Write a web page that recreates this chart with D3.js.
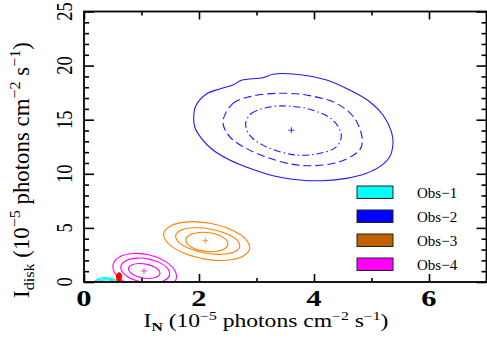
<!DOCTYPE html>
<html>
<head>
<meta charset="utf-8">
<script src="https://cdn.jsdelivr.net/npm/d3@7"></script>
<style>
  html, body { margin: 0; padding: 0; background: #fff; }
  svg { display: block; }
</style>
</head>
<body>
<svg id="chart" width="487" height="339"></svg>
<script>
// Axis ticks
const xMajorTicks = [0, 2, 4, 6];
const xMinorTicks = [1, 3, 5];
const yMajorTicks = [0, 5, 10, 15, 20, 25];
const yMinorTicks = [1, 2, 3, 4, 6, 7, 8, 9, 11, 12, 13, 14, 16, 17, 18, 19, 21, 22, 23, 24];

// Legend entries
const obsNames = ["Obs\u22121", "Obs\u22122", "Obs\u22123", "Obs\u22124"];
const legendColors = ["#00ffff", "#0000ff", "#c06000", "#ff00ff"];

// Confidence contours, [I_N, I_disk] vertices, outermost first
const obs1Contours = [
  [[0.19, 0.05], [0.25, 0.30], [0.35, 0.40], [0.47, 0.35], [0.56, 0.10], [0.50, -0.25], [0.35, -0.35], [0.22, -0.20]],
  [[0.22, 0.05], [0.28, 0.25], [0.37, 0.30], [0.48, 0.22], [0.53, 0.05], [0.45, -0.15], [0.33, -0.20], [0.24, -0.10]],
  [[0.26, 0.05], [0.32, 0.17], [0.40, 0.20], [0.48, 0.12], [0.50, 0.00], [0.42, -0.10], [0.30, -0.10]]
];
const obs2Contours = [
  [[1.908, 15.28], [1.943, 16.27], [2.129, 17.38], [2.360, 17.84], [2.591, 18.21], [2.737, 18.64], [3.113, 18.88],
   [3.287, 19.20], [3.635, 19.22], [4.216, 18.67], [4.621, 17.74], [4.969, 16.66], [5.200, 15.43], [5.346, 13.89],
   [5.374, 12.82], [5.316, 11.58], [5.143, 10.66], [4.911, 10.05], [4.563, 9.58], [4.157, 9.36], [3.751, 9.43],
   [3.287, 9.82], [2.882, 10.51], [2.534, 11.28], [2.243, 12.20], [2.042, 13.28], [1.925, 14.35]],
  [[2.417, 14.82], [2.591, 16.51], [2.881, 17.13], [3.345, 17.44], [3.867, 17.28], [4.388, 16.51], [4.707, 15.13],
   [4.841, 13.12], [4.794, 12.20], [4.446, 11.12], [3.983, 10.75], [3.635, 10.87], [3.229, 11.43], [2.823, 12.35], [2.533, 13.43]],
  [[2.812, 14.65], [2.910, 15.57], [3.229, 16.18], [3.577, 16.25], [3.983, 15.88], [4.330, 14.95], [4.475, 13.57],
   [4.388, 12.49], [3.983, 11.78], [3.577, 11.82], [3.113, 12.65], [2.881, 13.57]]
];
const obs3Contours = [
  [[2.882, 3.09], [2.807, 3.99], [2.551, 4.86], [2.184, 5.43], [1.804, 5.56], [1.511, 5.20],
   [1.386, 4.50], [1.461, 3.58], [1.716, 2.72], [2.084, 2.14], [2.464, 2.01], [2.755, 2.36]],
  [[2.708, 3.25], [2.657, 3.89], [2.470, 4.48], [2.198, 4.90], [1.913, 5.01], [1.691, 4.80],
   [1.595, 4.31], [1.645, 3.68], [1.833, 3.09], [2.104, 2.68], [2.390, 2.56], [2.610, 2.78]],
  [[2.503, 3.42], [2.477, 3.88], [2.360, 4.30], [2.184, 4.55], [1.995, 4.57], [1.845, 4.36],
   [1.772, 3.97], [1.798, 3.51], [1.915, 3.10], [2.090, 2.85], [2.280, 2.82], [2.430, 3.03]]
];
const obs4Contours = [
  [[1.603, 0.28], [1.574, 1.13], [1.405, 1.93], [1.143, 2.49], [0.858, 2.63], [0.624, 2.33],
   [0.508, 1.66], [0.537, 0.81], [0.706, 0.00], [0.969, -0.55], [1.254, -0.69], [1.487, -0.39]],
  [[1.482, 0.55], [1.470, 1.13], [1.348, 1.70], [1.151, 2.09], [0.930, 2.21], [0.746, 2.02],
   [0.647, 1.57], [0.659, 0.99], [0.781, 0.42], [0.977, 0.03], [1.198, -0.09], [1.383, 0.10]],
  [[1.317, 0.69], [1.306, 1.04], [1.227, 1.38], [1.099, 1.63], [0.957, 1.71], [0.840, 1.60],
   [0.777, 1.34], [0.788, 0.99], [0.867, 0.65], [0.995, 0.41], [1.136, 0.33], [1.254, 0.43]]
];
const redContour = [[0.575, 0.75], [0.62, 0.85], [0.655, 0.65], [0.645, 0.30], [0.625, 0.00], [0.605, -0.20], [0.58, 0.10], [0.565, 0.45]];

// Best-fit positions
const centers = [
  { x: 3.606, y: 14.03, color: "#0000ff" },
  { x: 2.11, y: 3.82, color: "#ff8000" },
  { x: 1.043, y: 1.02, color: "#ff00ff" }
];

const serif = "\"Liberation Serif\"";
const svg = d3.select("#chart");
const plotLeft = 84, plotRight = 486.5, plotTop = 11.5, plotBottom = 282;
const wide = 1.3; // horizontal stretch of the lettering

const x = d3.scaleLinear().domain([0, 7]).range([plotLeft, plotRight]);
const y = d3.scaleLinear().domain([0, 25]).range([plotBottom, plotTop]);

svg.append("defs").append("clipPath").attr("id", "plotClip")
  .append("rect").attr("x", plotLeft).attr("y", plotTop)
  .attr("width", plotRight - plotLeft).attr("height", plotBottom - plotTop);

const plot = svg.append("g").attr("clip-path", "url(#plotClip)");
const line = d3.line().x(d => x(d[0])).y(d => y(d[1])).curve(d3.curveCatmullRomClosed.alpha(0.5));

function drawSet(contours, color, dashes, width) {
  plot.append("g").selectAll("path").data(contours).join("path")
    .attr("d", line)
    .attr("fill", "none")
    .attr("stroke", color)
    .attr("stroke-width", width)
    .attr("stroke-dasharray", (d, i) => dashes[i]);
}

drawSet(obs1Contours, "#00f0f0", [null, null, null], 1.2);
drawSet(obs4Contours, "#ff00ff", [null, null, null], 1.1);
drawSet(obs3Contours, "#ff8000", [null, null, null], 1.1);
drawSet(obs2Contours, "#1a1aff", [null, "8,4", "7,3,1.5,3"], 1.1);

plot.append("path").datum(redContour)
  .attr("d", line).attr("fill", "#ff0000").attr("stroke", "#ff0000").attr("stroke-width", 1);

plot.append("g").selectAll("path").data(centers).join("path")
  .attr("d", d => `M${x(d.x) - 3},${y(d.y)}H${x(d.x) + 3}M${x(d.x)},${y(d.y) - 3}V${y(d.y) + 3}`)
  .attr("stroke", d => d.color).attr("stroke-width", 0.8).attr("fill", "none");

// Inward ticks on all four sides
function tickAxis(gen, values, size, transform) {
  const g = svg.append("g").attr("transform", transform)
    .call(gen.tickValues(values).tickSizeInner(-size).tickSizeOuter(0).tickFormat(""));
  g.select(".domain").remove();
  g.selectAll(".tick line").attr("stroke", "#000").attr("stroke-width", 1.6);
  return g;
}
tickAxis(d3.axisBottom(x), xMajorTicks, 8, `translate(0,${plotBottom})`);
tickAxis(d3.axisBottom(x), xMinorTicks, 4, `translate(0,${plotBottom})`);
tickAxis(d3.axisTop(x), xMajorTicks, 8, `translate(0,${plotTop})`);
tickAxis(d3.axisTop(x), xMinorTicks, 4, `translate(0,${plotTop})`);
tickAxis(d3.axisLeft(y), yMajorTicks, 10, `translate(${plotLeft},0)`);
tickAxis(d3.axisLeft(y), yMinorTicks, 5, `translate(${plotLeft},0)`);
tickAxis(d3.axisRight(y), yMajorTicks, 10, `translate(${plotRight},0)`);
tickAxis(d3.axisRight(y), yMinorTicks, 5, `translate(${plotRight},0)`);

svg.append("rect").attr("x", plotLeft).attr("y", plotTop)
  .attr("width", plotRight - plotLeft).attr("height", plotBottom - plotTop)
  .attr("fill", "none").attr("stroke", "#000").attr("stroke-width", 1.8);

const txt = sel => sel.style("font-family", serif).attr("fill", "#000");

// Tick labels
svg.append("g").selectAll("text").data(xMajorTicks).join("text")
  .call(txt)
  .attr("transform", d => `translate(${x(d)},306) scale(${wide},1)`)
  .attr("text-anchor", "middle").attr("font-size", 23.5).attr("font-weight", "bold")
  .text(d => d);

svg.append("g").selectAll("text").data(yMajorTicks).join("text")
  .call(txt)
  .attr("transform", d => `translate(72,${y(d)}) scale(${wide},1) rotate(-90)`)
  .attr("text-anchor", "middle").attr("font-size", 18.5)
  .text(d => d);

// Axis title with subscript and superscripts
function fluxTitle(sel, sub, subBold) {
  sel.append("tspan").text("I");
  sel.append("tspan").attr("font-size", 12).attr("dy", 4).attr("font-weight", subBold ? "bold" : null).text(sub);
  sel.append("tspan").attr("dy", -4).text(" (10");
  sel.append("tspan").attr("font-size", 12).attr("dy", -7).text("\u22125");
  sel.append("tspan").attr("dy", 7).text(" photons cm");
  sel.append("tspan").attr("font-size", 12).attr("dy", -7).text("\u22122");
  sel.append("tspan").attr("dy", 7).text(" s");
  sel.append("tspan").attr("font-size", 12).attr("dy", -7).text("\u22121");
  sel.append("tspan").attr("dy", 7).text(")");
}

const xt = svg.append("text").call(txt).attr("text-anchor", "middle").attr("font-size", 18);
fluxTitle(xt, "N", true);
const xtLen = xt.node().getComputedTextLength();
xt.attr("transform", `translate(266,326.5) scale(${245 / xtLen},1)`);

const yt = svg.append("text").call(txt).attr("text-anchor", "middle").attr("font-size", 17);
fluxTitle(yt, "disk", false);
const ytLen = yt.node().getComputedTextLength();
yt.attr("transform", `translate(29,170) scale(${wide},1) rotate(-90) scale(${256 / ytLen},1)`);

// Legend
const legend = svg.append("g").selectAll("g").data(obsNames).join("g")
  .attr("transform", (d, i) => `translate(357,${186 + i * 24})`);
legend.append("rect").attr("width", 36).attr("height", 12.5)
  .attr("fill", (d, i) => legendColors[i]).attr("stroke", "#222").attr("stroke-width", 1);
legend.append("text").call(txt).attr("x", 60).attr("y", 11.5).attr("font-size", 15).text(d => d);
</script>
</body>
</html>
